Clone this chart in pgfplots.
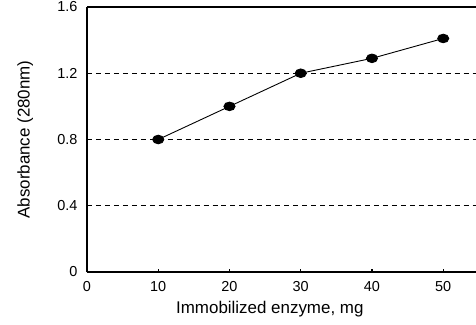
\documentclass[border=0pt]{standalone}
\usepackage{fontspec}
\setmainfont{Liberation Sans}
\usepackage{pgfplots}
\pgfplotsset{compat=1.18}
\begin{document}
\begin{tikzpicture}
\useasboundingbox (0,0) rectangle (476bp,325bp);
\begin{axis}[
  at={(87bp,53bp)}, anchor=south west,
  scale only axis, width=389bp, height=265bp,
  xmin=0, xmax=54.6, ymin=0, ymax=1.6,
  axis x line*=bottom, axis y line*=left,
  axis line style={-, line width=1.8pt},
  xtick={0,10,20,30,40,50}, ytick={0,0.4,0.8,1.2,1.6},
  tick align=inside, major tick length=3pt,
  tick style={line width=1.2pt, black},
  ymajorgrids, grid style={black, line width=0.8pt, dash pattern=on 5pt off 4pt},
  /pgf/number format/assume math mode=true,
  tick label style={font=\fontsize{14.5}{16}\selectfont},
  yticklabel style={xshift=-6bp},
  xticklabel style={yshift=-6bp},
  label style={font=\fontsize{17}{20}\selectfont},
  xlabel={Immobilized enzyme, mg},
  ylabel={Absorbance (280nm)},
  xlabel style={at={(axis description cs:0.47,-0.14)}, anchor=center},
  ylabel style={at={(axis description cs:-0.159,0.5)}, anchor=center},
  clip=false,
]
\addplot[black, line width=0.9pt, mark=*, mark size=4.3pt, mark options={xscale=1.3, fill=black}]
  coordinates {(10,0.80) (20,1.00) (30,1.20) (40,1.29) (50,1.41)};
\draw[line width=3pt, black] (rel axis cs:0,1) -- (rel axis cs:1.05,1);
\end{axis}
\end{tikzpicture}
\end{document}
